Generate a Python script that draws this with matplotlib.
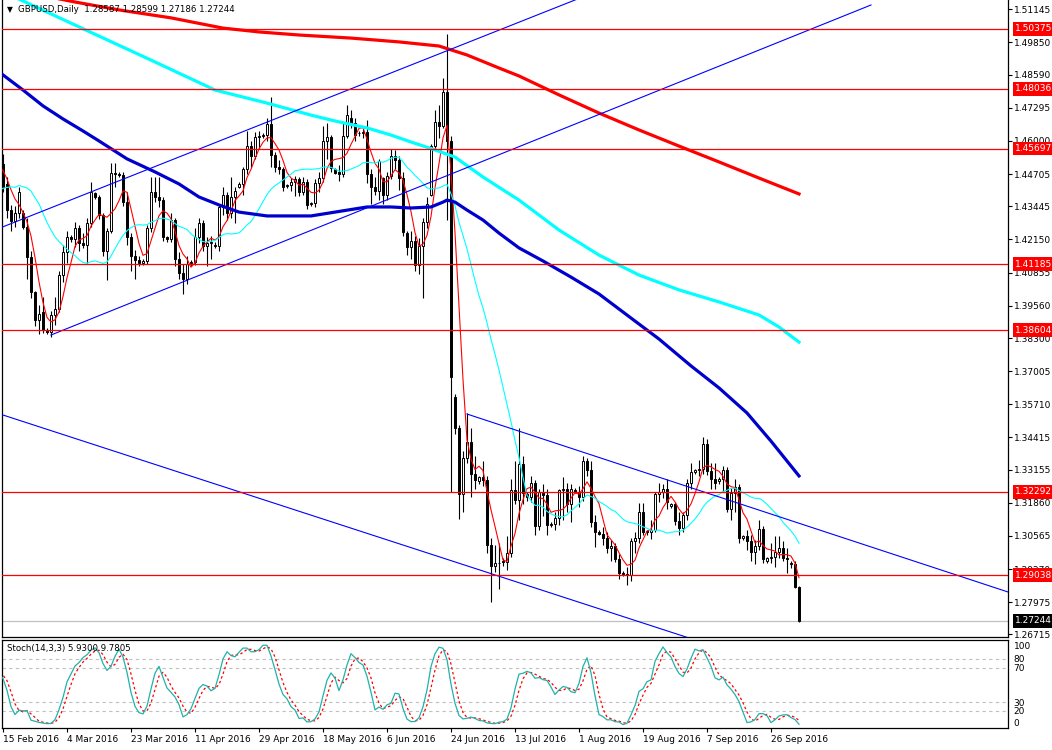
import numpy as np
import pandas as pd
import matplotlib.pyplot as plt
import matplotlib.transforms as mtransforms

plt.switch_backend('Agg')
plt.rcParams['font.family'] = 'DejaVu Sans'

# daily bars (MT4 feed with Sunday bars), 24 warm-up bars before 15 Feb 2016
n_pre = 24
opens = [
    1.4262, 1.4270, 1.4180, 1.4155, 1.4235, 1.4255,
    1.4262, 1.4248, 1.4350, 1.4256, 1.4362, 1.4240,
    1.4255, 1.4413, 1.4407, 1.4585, 1.4597, 1.4480,
    1.4485, 1.4430, 1.4480, 1.4496, 1.4497, 1.4505,
    1.4510, 1.4430, 1.4330, 1.4287, 1.4320, 1.4320,
    1.4265, 1.4147, 1.4010, 1.3900, 1.3930, 1.3862,
    1.3855, 1.3920, 1.3945, 1.4075, 1.4165, 1.4225,
    1.4215, 1.4260, 1.4200, 1.4195, 1.4280, 1.4395,
    1.4380, 1.4310, 1.4170, 1.4250, 1.4475, 1.4470,
    1.4468, 1.4360, 1.4225, 1.4150, 1.4135, 1.4125,
    1.4130, 1.4260, 1.4400, 1.4380, 1.4370, 1.4225,
    1.4215, 1.4290, 1.4140, 1.4085, 1.4060, 1.4125,
    1.4128, 1.4225, 1.4280, 1.4190, 1.4200, 1.4195,
    1.4190, 1.4340, 1.4390, 1.4320, 1.4380, 1.4420,
    1.4430, 1.4490, 1.4580, 1.4540, 1.4615, 1.4620,
    1.4622, 1.4665, 1.4545, 1.4500, 1.4490, 1.4425,
    1.4428, 1.4438, 1.4450, 1.4400, 1.4440, 1.4355,
    1.4357, 1.4435, 1.4455, 1.4600, 1.4615, 1.4490,
    1.4480, 1.4470, 1.4620, 1.4690, 1.4670, 1.4630,
    1.4632, 1.4635, 1.4470, 1.4420, 1.4405, 1.4455,
    1.4390, 1.4465, 1.4540, 1.4525, 1.4455, 1.4240,
    1.4185, 1.4210, 1.4115, 1.4190, 1.4285, 1.4390,
    1.4580, 1.4675, 1.4660, 1.4790, 1.4600, 1.3600,
    1.3480, 1.3220, 1.3360, 1.3425, 1.3300, 1.3270,
    1.3285, 1.3275, 1.3020, 1.2938, 1.2951, 1.2960,
    1.2955, 1.2990, 1.3237, 1.3198, 1.3338, 1.3220,
    1.3210, 1.3265, 1.3097, 1.3227, 1.3215, 1.3100,
    1.3105, 1.3125, 1.3236, 1.3240, 1.3180, 1.3235,
    1.3230, 1.3207, 1.3348, 1.3316, 1.3111, 1.3072,
    1.3065, 1.3049, 1.3009, 1.3016, 1.2968, 1.2910,
    1.2908, 1.2904, 1.3036, 1.3048, 1.3149, 1.3075,
    1.3070, 1.3079, 1.3222, 1.3228, 1.3238, 1.3175,
    1.3180, 1.3114, 1.3088, 1.3140, 1.3262, 1.3305,
    1.3315, 1.3317, 1.3414, 1.3309, 1.3278, 1.3270,
    1.3280, 1.3315, 1.3162, 1.3223, 1.3248, 1.3050,
    1.3055, 1.3037, 1.2993, 1.3018, 1.3083, 1.2960,
    1.2970, 1.2973, 1.2995, 1.3010, 1.2971, 1.2950,
    1.2945, 1.28587,
]
highs = [
    1.4305, 1.4345, 1.4210, 1.4255, 1.4312, 1.4270,
    1.4300, 1.4375, 1.4358, 1.4370, 1.4370, 1.4260,
    1.4430, 1.4470, 1.4600, 1.4668, 1.4600, 1.4495,
    1.4505, 1.4500, 1.4530, 1.4515, 1.4540, 1.4520,
    1.4550, 1.4460, 1.4350, 1.4345, 1.4420, 1.4330,
    1.4300, 1.4170, 1.4015, 1.3960, 1.3990, 1.3868,
    1.3935, 1.3990, 1.4090, 1.4195, 1.4250, 1.4232,
    1.4285, 1.4270, 1.4240, 1.4300, 1.4440, 1.4400,
    1.4390, 1.4320, 1.4260, 1.4514, 1.4515, 1.4480,
    1.4480, 1.4400, 1.4240, 1.4175, 1.4150, 1.4140,
    1.4270, 1.4460, 1.4460, 1.4460, 1.4380, 1.4230,
    1.4320, 1.4300, 1.4165, 1.4120, 1.4150, 1.4135,
    1.4260, 1.4300, 1.4290, 1.4225, 1.4230, 1.4205,
    1.4350, 1.4420, 1.4400, 1.4460, 1.4420, 1.4440,
    1.4500, 1.4640, 1.4600, 1.4635, 1.4640, 1.4630,
    1.4690, 1.4770, 1.4555, 1.4525, 1.4500, 1.4432,
    1.4455, 1.4462, 1.4460, 1.4460, 1.4450, 1.4362,
    1.4450, 1.4480, 1.4660, 1.4670, 1.4625, 1.4495,
    1.4505, 1.4670, 1.4740, 1.4720, 1.4690, 1.4640,
    1.4660, 1.4680, 1.4490, 1.4460, 1.4530, 1.4460,
    1.4480, 1.4570, 1.4565, 1.4540, 1.4480, 1.4250,
    1.4250, 1.4230, 1.4220, 1.4300, 1.4380, 1.4590,
    1.4720, 1.4740, 1.4845, 1.5018, 1.4620, 1.3610,
    1.3490, 1.3390, 1.3535, 1.3480, 1.3370, 1.3290,
    1.3350, 1.3290, 1.3050, 1.3020, 1.3030, 1.2970,
    1.3055, 1.3280, 1.3350, 1.3480, 1.3370, 1.3230,
    1.3290, 1.3275, 1.3240, 1.3260, 1.3240, 1.3110,
    1.3150, 1.3240, 1.3285, 1.3265, 1.3260, 1.3245,
    1.3250, 1.3370, 1.3360, 1.3350, 1.3140, 1.3080,
    1.3090, 1.3070, 1.3040, 1.3030, 1.2985, 1.2920,
    1.2935, 1.3050, 1.3070, 1.3185, 1.3185, 1.3080,
    1.3120, 1.3230, 1.3265, 1.3260, 1.3280, 1.3185,
    1.3190, 1.3150, 1.3150, 1.3280, 1.3340, 1.3320,
    1.3355, 1.3445, 1.3435, 1.3340, 1.3340, 1.3285,
    1.3330, 1.3325, 1.3245, 1.3280, 1.3260, 1.3060,
    1.3080, 1.3060, 1.3040, 1.3120, 1.3095, 1.2975,
    1.3030, 1.3055, 1.3055, 1.3035, 1.3010, 1.2960,
    1.2960, 1.28599,
]
lows = [
    1.4237, 1.4160, 1.4080, 1.4130, 1.4225, 1.4245,
    1.4225, 1.4240, 1.4210, 1.4250, 1.4215, 1.4230,
    1.4240, 1.4340, 1.4350, 1.4550, 1.4460, 1.4470,
    1.4400, 1.4360, 1.4440, 1.4440, 1.4450, 1.4495,
    1.4400, 1.4300, 1.4250, 1.4265, 1.4300, 1.4255,
    1.4060, 1.3985, 1.3878, 1.3845, 1.3850, 1.3845,
    1.3835, 1.3880, 1.3930, 1.4050, 1.4125, 1.4205,
    1.4185, 1.4170, 1.4180, 1.4125, 1.4265, 1.4375,
    1.4295, 1.4150, 1.4055, 1.4240, 1.4420, 1.4460,
    1.4345, 1.4195, 1.4090, 1.4060, 1.4110, 1.4115,
    1.4120, 1.4245, 1.4360, 1.4340, 1.4210, 1.4205,
    1.4205, 1.4110, 1.4060, 1.4000, 1.4040, 1.4110,
    1.4115, 1.4200, 1.4170, 1.4110, 1.4140, 1.4180,
    1.4170, 1.4310, 1.4290, 1.4300, 1.4280, 1.4415,
    1.4390, 1.4470, 1.4500, 1.4530, 1.4570, 1.4610,
    1.4600, 1.4500, 1.4480, 1.4470, 1.4405, 1.4415,
    1.4405, 1.4385, 1.4385, 1.4390, 1.4335, 1.4345,
    1.4340, 1.4400, 1.4440, 1.4530, 1.4480, 1.4470,
    1.4445, 1.4460, 1.4610, 1.4650, 1.4600, 1.4620,
    1.4610, 1.4435, 1.4355, 1.4390, 1.4370, 1.4355,
    1.4370, 1.4450, 1.4490, 1.4410, 1.4230, 1.4155,
    1.4140, 1.4090, 1.4080, 1.3985, 1.4260, 1.4385,
    1.4570, 1.4610, 1.4650, 1.4290, 1.3229, 1.3455,
    1.3122, 1.3150, 1.3340, 1.3210, 1.3240, 1.3260,
    1.3250, 1.2990, 1.2798, 1.2915, 1.2850, 1.2940,
    1.2925, 1.2975, 1.3180, 1.3120, 1.3180, 1.3195,
    1.3190, 1.3060, 1.3080, 1.3135, 1.3060, 1.3090,
    1.3080, 1.3100, 1.3120, 1.3150, 1.3110, 1.3225,
    1.3170, 1.3195, 1.3290, 1.3090, 1.3015, 1.3060,
    1.3020, 1.2990, 1.2960, 1.2955, 1.2890, 1.2900,
    1.2865, 1.2880, 1.2990, 1.3030, 1.3060, 1.3060,
    1.3045, 1.3070, 1.3190, 1.3205, 1.3160, 1.3165,
    1.3100, 1.3060, 1.3070, 1.3120, 1.3240, 1.3300,
    1.3290, 1.3300, 1.3295, 1.3240, 1.3240, 1.3260,
    1.3230, 1.3150, 1.3120, 1.3150, 1.3030, 1.3040,
    1.3000, 1.2960, 1.2945, 1.3000, 1.2950, 1.2950,
    1.2950, 1.2935, 1.2970, 1.2960, 1.2910, 1.2930,
    1.2855, 1.27186,
]
closes = [
    1.4270, 1.4180, 1.4155, 1.4235, 1.4265, 1.4262,
    1.4248, 1.4350, 1.4256, 1.4362, 1.4246, 1.4255,
    1.4413, 1.4407, 1.4585, 1.4597, 1.4500, 1.4485,
    1.4430, 1.4480, 1.4496, 1.4497, 1.4500, 1.4510,
    1.4420, 1.4330, 1.4287, 1.4320, 1.4401, 1.4265,
    1.4147, 1.4010, 1.3900, 1.3925, 1.3862, 1.3855,
    1.3920, 1.3945, 1.4075, 1.4165, 1.4225, 1.4215,
    1.4260, 1.4200, 1.4195, 1.4280, 1.4400, 1.4380,
    1.4310, 1.4170, 1.4250, 1.4475, 1.4470, 1.4468,
    1.4360, 1.4225, 1.4150, 1.4135, 1.4125, 1.4130,
    1.4260, 1.4400, 1.4380, 1.4370, 1.4225, 1.4215,
    1.4290, 1.4140, 1.4085, 1.4060, 1.4120, 1.4128,
    1.4225, 1.4280, 1.4190, 1.4200, 1.4205, 1.4190,
    1.4340, 1.4390, 1.4320, 1.4380, 1.4405, 1.4430,
    1.4490, 1.4580, 1.4540, 1.4615, 1.4618, 1.4622,
    1.4665, 1.4545, 1.4500, 1.4490, 1.4420, 1.4428,
    1.4438, 1.4450, 1.4400, 1.4440, 1.4350, 1.4357,
    1.4435, 1.4455, 1.4600, 1.4615, 1.4495, 1.4475,
    1.4470, 1.4620, 1.4700, 1.4670, 1.4625, 1.4632,
    1.4635, 1.4470, 1.4420, 1.4405, 1.4520, 1.4390,
    1.4465, 1.4540, 1.4525, 1.4455, 1.4245, 1.4185,
    1.4210, 1.4115, 1.4190, 1.4285, 1.4355, 1.4580,
    1.4675, 1.4660, 1.4790, 1.4600, 1.3677, 1.3480,
    1.3220, 1.3360, 1.3425, 1.3300, 1.3275, 1.3285,
    1.3275, 1.3020, 1.2938, 1.2951, 1.2950, 1.2955,
    1.2990, 1.3237, 1.3198, 1.3338, 1.3225, 1.3210,
    1.3265, 1.3097, 1.3227, 1.3215, 1.3100, 1.3105,
    1.3125, 1.3236, 1.3240, 1.3180, 1.3240, 1.3230,
    1.3207, 1.3348, 1.3316, 1.3111, 1.3072, 1.3065,
    1.3049, 1.3009, 1.3016, 1.2968, 1.2913, 1.2908,
    1.2904, 1.3036, 1.3048, 1.3149, 1.3073, 1.3070,
    1.3079, 1.3222, 1.3228, 1.3238, 1.3188, 1.3180,
    1.3114, 1.3088, 1.3140, 1.3262, 1.3305, 1.3315,
    1.3317, 1.3414, 1.3309, 1.3278, 1.3265, 1.3280,
    1.3315, 1.3162, 1.3223, 1.3248, 1.3048, 1.3055,
    1.3037, 1.2993, 1.3018, 1.3083, 1.2965, 1.2970,
    1.2973, 1.2995, 1.3010, 1.2971, 1.2968, 1.2945,
    1.2858, 1.27244,
]

# long moving averages (bar index, price)
ma_blue_idx = [0, 5, 10, 15, 20, 24, 31, 38, 44, 49, 54, 59, 66, 77, 83, 91, 97, 102,
               107, 110, 111, 113, 116, 120, 124, 129, 135, 142, 149, 157, 164, 172,
               179, 186, 192, 199]
ma_blue_val = [1.4858, 1.4799, 1.4737, 1.4686, 1.4639, 1.4600, 1.4530, 1.4479, 1.4432,
               1.4381, 1.4350, 1.4322, 1.4307, 1.4307, 1.4322, 1.4342, 1.4342, 1.4338,
               1.4342, 1.4361, 1.4369, 1.4361, 1.4330, 1.4291, 1.4240, 1.4182, 1.4131,
               1.4068, 1.4002, 1.3908, 1.3826, 1.3721, 1.3635, 1.3537, 1.3427, 1.3291]
ma_cyan_idx = [0, 5, 18, 37, 53, 66, 77, 83, 91, 97, 102, 108, 113, 120, 129, 139, 149,
               159, 169, 179, 189, 194, 199]
ma_cyan_val = [1.5182, 1.5147, 1.5053, 1.4916, 1.4799, 1.4748, 1.4701, 1.4678, 1.4651,
               1.4623, 1.4596, 1.4565, 1.4537, 1.4459, 1.4369, 1.4252, 1.4154, 1.4076,
               1.4018, 1.3971, 1.3920, 1.3873, 1.3814]
ma_red_idx = [0, 18, 29, 42, 55, 64, 74, 87, 99, 109, 116, 124, 129, 139, 149, 159, 169,
              179, 189, 199]
ma_red_val = [1.5198, 1.5143, 1.5112, 1.5081, 1.5041, 1.5026, 1.5014, 1.5002, 1.4987,
              1.4971, 1.4936, 1.4885, 1.4854, 1.4780, 1.4709, 1.4643, 1.4580, 1.4518,
              1.4455, 1.4393]

# trend lines (two anchors each: bar index, price)
trend_lines = [
    ([-1, 150], [1.42583, 1.51942]),
    ([12, 217], [1.38417, 1.51313]),
    ([-1, 200], [1.35341, 1.25130]),
    ([116, 253], [1.35329, 1.28285]),
]

level_prices = [1.50375, 1.48036, 1.45697, 1.41185, 1.38604, 1.32292, 1.29038]
bid_price = 1.27244
price_ticks = [1.51145, 1.49850, 1.48590, 1.47295, 1.46000, 1.44705, 1.43445, 1.42150,
               1.40855, 1.39560, 1.38300, 1.37005, 1.35710, 1.34415, 1.33155, 1.31860,
               1.30565, 1.29270, 1.27975, 1.26715]
date_idx = [0, 16, 32, 48, 64, 80, 96, 112, 128, 144, 160, 176, 192]
date_labels = ['15 Feb 2016', '4 Mar 2016', '23 Mar 2016', '11 Apr 2016', '29 Apr 2016',
               '18 May 2016', '6 Jun 2016', '24 Jun 2016', '13 Jul 2016', '1 Aug 2016',
               '19 Aug 2016', '7 Sep 2016', '26 Sep 2016']
stoch_levels = [20, 30, 70, 80]
stoch_ticks = [0, 20, 30, 70, 80, 100]

o = np.array(opens)
h = np.array(highs)
l = np.array(lows)
c = np.array(closes)
idx = np.arange(len(c)) - n_pre

df = pd.DataFrame({'h': h, 'l': l, 'c': c})
sma5 = df['c'].rolling(5, min_periods=1).mean()
sma20 = df['c'].rolling(20, min_periods=1).mean()
ll = df['l'].rolling(14, min_periods=1).min()
hh = df['h'].rolling(14, min_periods=1).max()
k_line = 100 * (df['c'] - ll).rolling(3, min_periods=1).sum() / (hh - ll).rolling(3, min_periods=1).sum()
d_line = k_line.rolling(3, min_periods=1).mean()

W, H = 1052, 750
fig = plt.figure(figsize=(W / 100, H / 100), dpi=100)
ax = fig.add_axes([2 / W, 1 - 637 / H, 1006 / W, 637 / H])
sax = fig.add_axes([2 / W, 22 / H, 1006 / W, 88 / H])

xlim = (-0.25, 251.25)

# candles
up = c >= o
ax.vlines(idx, l, h, color='black', lw=0.8, zorder=2)
ax.bar(idx, np.abs(c - o), bottom=np.minimum(o, c), width=0.6,
       color=np.where(up, 'white', 'black'), edgecolor='black', linewidth=0.7, zorder=3)

# indicators
ax.plot(idx, sma5, color='#FF0000', lw=0.8, zorder=4)
ax.plot(idx, sma20, color='#00FFFF', lw=0.8, zorder=4)
ax.plot(ma_red_idx, ma_red_val, color='#FF0000', lw=2.3, zorder=4, solid_joinstyle='round')
ax.plot(ma_cyan_idx, ma_cyan_val, color='#00FFFF', lw=2.3, zorder=4, solid_joinstyle='round')
ax.plot(ma_blue_idx, ma_blue_val, color='#0000CD', lw=2.3, zorder=4, solid_joinstyle='round')

for xs, ys in trend_lines:
    ax.plot(xs, ys, color='#0000FF', lw=0.8, zorder=5)

for p in level_prices:
    ax.axhline(p, color='#FF0000', lw=0.9, zorder=5)
ax.axhline(bid_price, color='#C0C0C0', lw=0.9, zorder=1)

ax.set_xlim(*xlim)
ax.set_ylim(1.26616, 1.51508)
ax.set_xticks([])
ax.yaxis.tick_right()
ax.set_yticks(price_ticks)
ax.set_yticklabels(['%.5f' % t for t in price_ticks])
ax.tick_params(axis='y', labelsize=6.5, length=3, width=0.8, pad=1.5, colors='black')
ax.spines['top'].set_visible(False)
for s in ['left', 'right', 'bottom']:
    ax.spines[s].set_linewidth(0.9)

trans = mtransforms.blended_transform_factory(ax.transAxes, ax.transData)
for p in level_prices:
    ax.text(1 + 7 / 1006, p, '%.5f' % p, transform=trans, color='white', fontsize=6.5,
            va='center', ha='left', clip_on=False, zorder=10,
            bbox=dict(boxstyle='square,pad=0.25', fc='#FF0000', ec='none'))
ax.text(1 + 7 / 1006, bid_price, '%.5f' % bid_price, transform=trans, color='white',
        fontsize=6.5, va='center', ha='left', clip_on=False, zorder=10,
        bbox=dict(boxstyle='square,pad=0.25', fc='black', ec='none'))

fig.text(7 / W, 1 - 10 / H, '\u25bc', fontsize=5.5, va='center', ha='left')
fig.text(18 / W, 1 - 10 / H, 'GBPUSD,Daily  1.28587 1.28599 1.27186 1.27244',
         fontsize=6.2, va='center', ha='left')

# stochastic panel
for lv in stoch_levels:
    sax.axhline(lv, color='#C0C0C0', lw=0.8, ls=(0, (3, 3)), zorder=1)
sax.plot(idx, k_line, color='#20B2AA', lw=0.9, zorder=3)
sax.plot(idx, d_line, color='#FF0000', lw=0.9, ls=(0, (2, 2)), zorder=2)
sax.set_xlim(*xlim)
sax.set_ylim(0.4, 101.9)
sax.yaxis.tick_right()
sax.set_yticks(stoch_ticks)
sax.set_yticklabels([str(t) for t in stoch_ticks])
sax.tick_params(axis='y', labelsize=6.5, length=0, pad=4)
ylabs = sax.get_yticklabels()
ylabs[0].set_va('bottom')
ylabs[-1].set_va('top')
sax.set_xticks(date_idx)
sax.set_xticklabels(date_labels)
sax.tick_params(axis='x', labelsize=6.5, length=3, width=0.8, pad=2)
for lab in sax.get_xticklabels():
    lab.set_ha('left')
for s in sax.spines.values():
    s.set_linewidth(0.9)
sax.text(5 / 1006, 0.9, 'Stoch(14,3,3) 5.9300 9.7805', transform=sax.transAxes,
         fontsize=6.2, va='center', ha='left')

fig.savefig('out.png', dpi=100)
plt.close('all')
